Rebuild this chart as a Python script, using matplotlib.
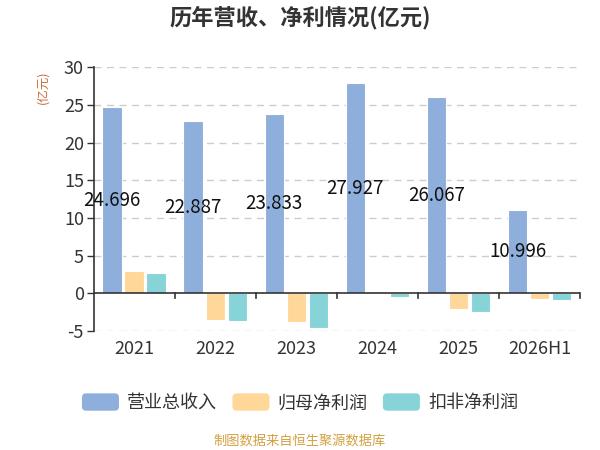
import matplotlib
matplotlib.use("Agg")
import matplotlib.pyplot as plt
import numpy as np
from matplotlib.patches import FancyBboxPatch
from matplotlib.legend_handler import HandlerPatch
import matplotlib.transforms as mtransforms

plt.rcParams['font.family'] = ['Noto Sans CJK SC', 'DejaVu Sans']

categories = ["2021", "2022", "2023", "2024", "2025", "2026H1"]
revenue = [24.696, 22.887, 23.833, 27.927, 26.067, 10.996]
net_profit = [3.0, -3.50, -3.76, 0.36, -2.12, -0.75]
deducted_profit = [2.7, -3.67, -4.56, -0.48, -2.47, -0.84]
series_names = ["营业总收入", "归母净利润", "扣非净利润"]
colors = ["#8EAEDB", "#FFD899", "#86D4D8"]
yticks = [-5, 0, 5, 10, 15, 20, 25, 30]

fig = plt.figure(figsize=(6, 4.5), dpi=100)
ax = fig.add_axes([0.156, 0.264, 0.811, 0.587])

x = np.arange(len(categories))
w = 0.24
step = 0.272
offsets = [-step, 0, step]
for vals, off, c in zip([revenue, net_profit, deducted_profit], offsets, colors):
    ax.bar(x + off, vals, width=w, color=c, edgecolor="white", linewidth=0.8, zorder=3)

for xi, v in zip(x, revenue):
    ax.text(xi + offsets[0], v / 2, f"{v:.3f}", ha="center", va="center",
            fontsize=13.5, color="#111111", zorder=5)

ax.set_xlim(-0.5, len(categories) - 0.5)
ax.set_ylim(-5, 30)
ax.set_yticks(yticks)
ax.set_yticklabels([str(t) for t in yticks])
ax.tick_params(axis="y", length=5, width=1, color="#333333", labelsize=13,
               labelcolor="#333333", pad=2)
ax.set_xticks([])
for s in ["top", "right", "bottom"]:
    ax.spines[s].set_visible(False)
ax.spines["left"].set_color("#333333")
ax.spines["left"].set_linewidth(1.2)

for t in yticks:
    if t != 0:
        ax.axhline(t, color="#CCCCCC", linestyle=(0, (5, 4)), linewidth=1, zorder=1)
ax.axhline(0, color="#333333", linewidth=1.2, zorder=4)

# boundary ticks at y=0
for b in np.arange(0.5, len(categories), 1.0):
    ax.plot([b, b], [0, -0.65], color="#333333", linewidth=1.2, zorder=4, clip_on=False)

# category labels
tb = mtransforms.blended_transform_factory(ax.transData, ax.transAxes)
for xi, c in zip(x, categories):
    ax.text(xi, -0.035, c, transform=tb, ha="center", va="top", fontsize=13, color="#333333")

ax.text(-0.105, 0.925, "(亿元)", transform=ax.transAxes, rotation=90, ha="center", va="center",
        fontsize=9, color="#C8703A")

fig.text(0.5, 0.96, "历年营收、净利情况(亿元)", ha="center", va="center", fontsize=16,
         fontweight="bold", color="#333333")


class RoundHandler(HandlerPatch):
    def create_artists(self, legend, orig_handle, xdescent, ydescent, width, height, fontsize, trans):
        p = FancyBboxPatch((-xdescent, -ydescent), width, height,
                           boxstyle="round,pad=0,rounding_size=3",
                           facecolor=orig_handle.get_facecolor(), edgecolor="none", transform=trans)
        return [p]


handles = [plt.Rectangle((0, 0), 1, 1, facecolor=c) for c in colors]
leg = fig.legend(handles, series_names, loc="center", bbox_to_anchor=(0.5, 0.105), ncol=3,
                 frameon=False, fontsize=13, handlelength=2.05, handleheight=1.1,
                 handletextpad=0.45, columnspacing=0.85,
                 handler_map={plt.Rectangle: RoundHandler()})
for t in leg.get_texts():
    t.set_color("#333333")

fig.text(0.5, 0.02, "制图数据来自恒生聚源数据库", ha="center", va="center", fontsize=9.5,
         color="#D4A040")

fig.savefig("out.png", dpi=100)
